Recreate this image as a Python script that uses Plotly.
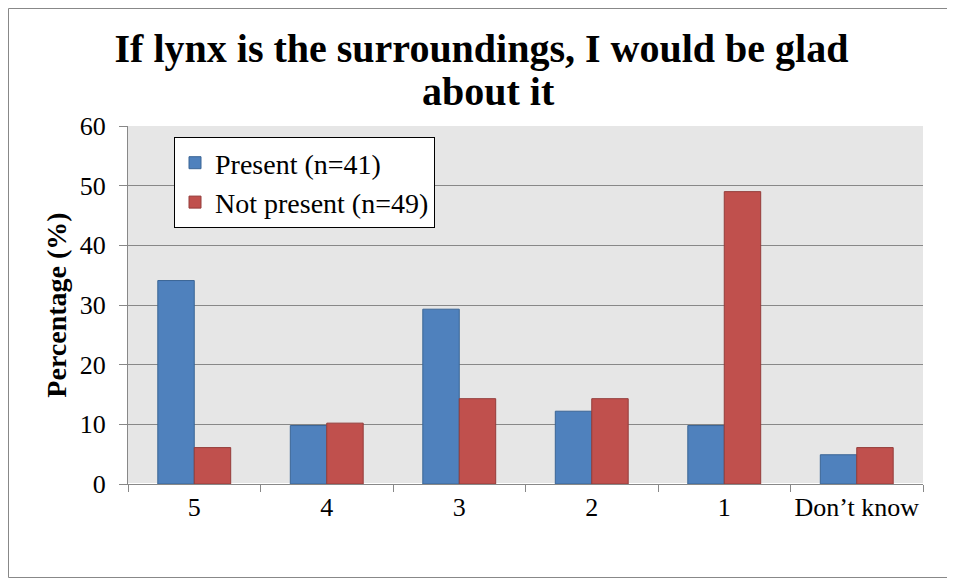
import plotly.graph_objects as go

categories = ["5", "4", "3", "2", "1", "Don\u2019t know"]
present = [34.1, 9.8, 29.3, 12.2, 9.8, 4.9]
not_present = [6.1, 10.2, 14.3, 14.3, 49.0, 6.1]
series_names = ["Present (n=41)", "Not present (n=49)"]
title_lines = ["If lynx is the surroundings, I would be glad", "about it"]

FONT = "Liberation Serif"
OFF = 8  # page offset of the figure (default body margin)
W, H = 955 - OFF, 579 - OFF
ML, MT, MR, MB = 128 - OFF, 126 - OFF, 32, 95
PW = W - ML - MR  # 795
PH = H - MT - MB  # 358

fig = go.Figure()
fig.add_trace(go.Bar(x=categories, y=present, name=series_names[0],
                     marker=dict(color="#4F81BD", line=dict(color="#3A6595", width=1))))
fig.add_trace(go.Bar(x=categories, y=not_present, name=series_names[1],
                     marker=dict(color="#C0504D", line=dict(color="#943C3A", width=1))))

fig.update_layout(
    width=W, height=H,
    margin=dict(l=ML, r=MR, t=MT, b=MB),
    paper_bgcolor="white", plot_bgcolor="#E6E6E6",
    barmode="group", bargap=0.45, bargroupgap=0,
    font=dict(family=FONT, size=26, color="black"),
    title=dict(text="<b>" + title_lines[0] + "</b>",
               x=0.5, xanchor="center", yref="container", y=1 - (48 - OFF) / H, yanchor="middle",
               font=dict(family=FONT, size=40, color="black")),
    annotations=[dict(text="<b>" + title_lines[1] + "</b>", xref="paper", yref="paper",
                      x=(488 - 128) / PW, y=(484 - 91) / PH, xanchor="center", yanchor="middle",
                      showarrow=False, font=dict(family=FONT, size=40, color="black"))],
    legend=dict(x=46 / PW, y=(484 - 137) / PH, xanchor="left", yanchor="top",
                bgcolor="white", bordercolor="black", borderwidth=1,
                font=dict(family=FONT, size=28), itemwidth=30, tracegroupgap=0),
    xaxis=dict(type="category", tickson="boundaries", ticks="outside", ticklen=7,
               tickcolor="#888888", showline=True, linecolor="#888888", linewidth=1,
               showgrid=False, tickangle=0, tickfont=dict(family=FONT, size=26)),
    yaxis=dict(range=[0, 60], dtick=10, ticks="outside", ticklen=8, tickcolor="#888888",
               showline=True, linecolor="#888888", linewidth=1,
               showgrid=True, gridcolor="#888888", gridwidth=1, ticklabelstandoff=8,
               title=dict(text="<b>Percentage (%)</b>", font=dict(family=FONT, size=28), standoff=4),
               tickfont=dict(family=FONT, size=26)),
    shapes=[dict(type="rect", xref="paper", yref="paper",
                 x0=-(ML - 0.5) / PW, x1=(PW + MR - 1.5) / PW,
                 y0=-(MB - 1.5) / PH, y1=(PH + MT - 0.5) / PH,
                 line=dict(color="#888888", width=1))],
)

fig.write_html("out.html", config={"displayModeBar": False})
